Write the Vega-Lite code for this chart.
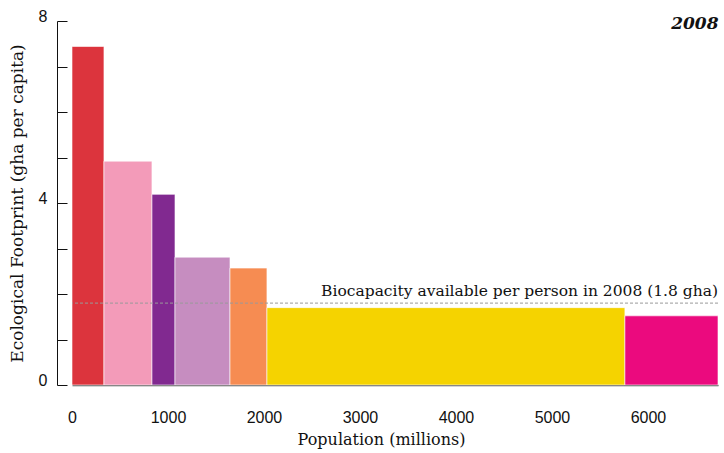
{
  "$schema": "https://vega.github.io/schema/vega-lite/v6.json",
  "width": 646,
  "height": 364,
  "autosize": {"type": "none"},
  "padding": {"left": 72, "top": 21, "right": 6, "bottom": 68},
  "background": "white",
  "config": {"view": {"stroke": null}},
  "title": {"text": "2008", "anchor": "end", "font": "DejaVu Serif", "fontSize": 17, "fontStyle": "italic", "fontWeight": "bold", "color": "#111", "offset": -25},
  "datasets": {
    "regions": [
      {"region": "North America", "start": 0, "end": 333, "footprint": 7.44, "base": 0},
      {"region": "EU", "start": 333, "end": 833, "footprint": 4.92, "base": 0},
      {"region": "Other Europe", "start": 833, "end": 1073, "footprint": 4.19, "base": 0},
      {"region": "Latin America", "start": 1073, "end": 1646, "footprint": 2.81, "base": 0},
      {"region": "Middle East/Central Asia", "start": 1646, "end": 2031, "footprint": 2.57, "base": 0},
      {"region": "Asia-Pacific", "start": 2031, "end": 5760, "footprint": 1.7, "base": 0},
      {"region": "Africa", "start": 5760, "end": 6730, "footprint": 1.52, "base": 0}
    ],
    "biocapacity": [{"value": 1.8, "label": "Biocapacity available per person in 2008 (1.8 gha)", "xpos": 6730}]
  },
  "layer": [
    {
      "data": {"name": "regions"},
      "mark": {"type": "rect", "stroke": "white", "strokeWidth": 0.6},
      "encoding": {
        "x": {"field": "start", "type": "quantitative", "scale": {"domain": [0, 6730], "nice": false},
          "axis": {"values": [0, 1000, 2000, 3000, 4000, 5000, 6000], "format": "d", "ticks": false, "grid": false, "domainColor": "#555", "domainWidth": 1.5, "labelPadding": 24, "labelFont": "Liberation Sans", "labelFontSize": 16, "labelColor": "#111", "labelFlush": false,
            "title": "Population (millions)", "titleFont": "DejaVu Serif", "titleFontSize": 16, "titleFontWeight": "normal", "titleColor": "#111", "titlePadding": 6, "titleX": 309}},
        "x2": {"field": "end"},
        "y": {"field": "footprint", "type": "quantitative", "scale": {"domain": [0, 8], "nice": false},
          "axis": {"values": [0, 1, 2, 3, 4, 5, 6, 7, 8], "labelExpr": "datum.value % 4 === 0 ? datum.label : ''", "offset": 15, "tickSize": -10, "tickColor": "#111", "domainColor": "#111", "grid": false, "labelPadding": 20, "labelOffset": -5, "labelFont": "Liberation Sans", "labelFontSize": 16, "labelColor": "#111",
            "title": "Ecological Footprint (gha per capita)", "titleFont": "DejaVu Serif", "titleFontSize": 17, "titleFontWeight": "normal", "titleColor": "#111", "titlePadding": 12}},
        "y2": {"field": "base"},
        "color": {"field": "region", "type": "nominal", "legend": null,
          "scale": {"domain": ["North America", "EU", "Other Europe", "Latin America", "Middle East/Central Asia", "Asia-Pacific", "Africa"],
            "range": ["#DC343D", "#F39BB9", "#812990", "#C68DC0", "#F68C52", "#F5D300", "#EB0A7E"]}}
      }
    },
    {
      "data": {"name": "biocapacity"},
      "mark": {"type": "rule", "strokeDash": [3, 2], "color": "#999", "strokeWidth": 1},
      "encoding": {"y": {"field": "value", "type": "quantitative"}}
    },
    {
      "data": {"name": "biocapacity"},
      "mark": {"type": "text", "align": "right", "baseline": "alphabetic", "dy": -7, "font": "DejaVu Serif", "fontSize": 15.5, "color": "#111"},
      "encoding": {
        "x": {"field": "xpos", "type": "quantitative"},
        "y": {"field": "value", "type": "quantitative"},
        "text": {"field": "label"}
      }
    }
  ]
}
